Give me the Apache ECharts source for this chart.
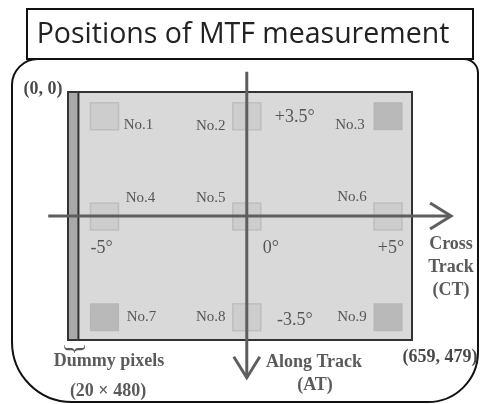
<!DOCTYPE html>
<html>
<head>
<meta charset="utf-8">
<script src="https://cdn.jsdelivr.net/npm/echarts@6/dist/echarts.min.js"></script>
<style>html,body{margin:0;padding:0;background:#fff}#c{width:480px;height:404px}</style>
</head>
<body>
<div id="c"></div>
<script>
// ---- data ----
const sensorExtent = [660, 480];          // detector pixels (CT x AT)
const dummyColumns = 20;                  // dummy pixel columns
const positionNames = ['No.1','No.2','No.3','No.4','No.5','No.6','No.7','No.8','No.9'];
const positionX = [70, 343, 614, 70, 343, 614, 70, 343, 614];
const positionY = [47, 47, 47, 241, 241, 241, 436, 436, 436];
const positionShade = ['light','light','dark','light','light','light','dark','light','dark'];
const angleLabels = ['+3.5°', '-5°', '0°', '+5°', '-3.5°'];
const angleAt = [1, 3, 4, 5, 7];          // index of the position each angle label belongs to
const crossTrackAxis = [-38, 240, 735, 240];
const alongTrackAxis = [343, -39, 343, 553];
const cornerLabels = ['(0, 0)', '(659, 479)'];

// ---- layout / styles ----
const noLabelOffset = [[34,9],[-36,10],[-38,9],[36,-18],[-36,-18],[-36,-19],[37,0],[-36,0],[-36,0]];
const angleOffset = [[48,1],[-3,32],[24,32],[3,32],[48,3]];
const serif = '"Liberation Serif", "Times New Roman", serif';

const chart = echarts.init(document.getElementById('c'), null, {renderer: 'canvas'});

const squareData = positionNames.map((n, i) => ({
  value: [positionX[i], positionY[i]],
  name: n,
  itemStyle: positionShade[i] === 'dark'
    ? {color: '#b0b0b0', borderColor: '#b0b0b0', borderWidth: 1}
    : {color: '#c9c9c9', borderColor: '#b9b9b9', borderWidth: 1.5},
  label: {show: true, formatter: n, position: 'inside', offset: noLabelOffset[i]}
}));

const angleData = angleLabels.map((t, k) => ({
  value: [positionX[angleAt[k]], positionY[angleAt[k]]],
  label: {show: true, formatter: t, position: 'inside', offset: angleOffset[k]}
}));

function arrowItem(params, api) {
  const a = api.coord([api.value(0), api.value(1)]);
  const b = api.coord([api.value(2), api.value(3)]);
  const dx = b[0] - a[0], dy = b[1] - a[1];
  const len = Math.sqrt(dx*dx + dy*dy);
  const ux = dx/len, uy = dy/len;
  const back = 21, half = 13;
  const bx = b[0] - ux*back, by = b[1] - uy*back;
  const style = {stroke: '#5e5e5e', lineWidth: 3, fill: null};
  return {type: 'group', children: [
    {type: 'line', shape: {x1: a[0], y1: a[1], x2: b[0] - ux*1.5, y2: b[1] - uy*1.5}, style: style},
    {type: 'polyline', shape: {points: [[bx - uy*half, by + ux*half], [b[0], b[1]], [bx + uy*half, by - ux*half]]}, style: style}
  ]};
}

const option = {
  animation: false,
  grid: {left: 68, top: 92, width: 344, height: 248},
  xAxis: {type: 'value', min: 0, max: sensorExtent[0], show: false},
  yAxis: {type: 'value', min: 0, max: sensorExtent[1], inverse: true, show: false},
  graphic: [
    {type: 'rect', z: 1, shape: {x: 12, y: 59, width: 466, height: 343, r: [26, 14, 50, 60]},
     style: {fill: '#fff', stroke: '#111', lineWidth: 2}},
    {type: 'rect', z: 2, shape: {x: 27, y: 9, width: 446, height: 50},
     style: {fill: '#fff', stroke: '#111', lineWidth: 2}},
    {type: 'text', z: 3, x: 243, y: 35,
     style: {text: 'Positions of MTF measurement', font: '28.5px "Open Sans", sans-serif', fill: '#222', align: 'center', verticalAlign: 'middle'}},
    {type: 'text', z: 50, x: 451, y: 267,
     style: {text: 'Cross\nTrack\n(CT)', font: 'bold 18px ' + serif, fill: '#5a5a5a', align: 'center', verticalAlign: 'middle', lineHeight: 23}},
    {type: 'text', z: 50, x: 314, y: 362,
     style: {text: 'Along Track', font: 'bold 18px ' + serif, fill: '#5a5a5a', align: 'center', verticalAlign: 'middle'}},
    {type: 'text', z: 50, x: 315, y: 385,
     style: {text: '(AT)', font: 'bold 18px ' + serif, fill: '#5a5a5a', align: 'center', verticalAlign: 'middle'}},
    {type: 'text', z: 50, x: 109, y: 361,
     style: {text: 'Dummy pixels', font: 'bold 18px ' + serif, fill: '#5a5a5a', align: 'center', verticalAlign: 'middle'}},
    {type: 'text', z: 50, x: 108, y: 391,
     style: {text: '(20 × 480)', font: 'bold 18px ' + serif, fill: '#5a5a5a', align: 'center', verticalAlign: 'middle'}},
    {type: 'text', z: 50, x: 75, y: 349, rotation: -Math.PI/2,
     style: {text: '}', font: '26px ' + serif, fill: '#5a5a5a', align: 'center', verticalAlign: 'middle'}}
  ],
  series: [
    {
      type: 'custom', z: 5, silent: true,
      data: [[0, 0, sensorExtent[0], sensorExtent[1], 0], [0, 0, dummyColumns, sensorExtent[1], 1]],
      renderItem: function (params, api) {
        const p1 = api.coord([api.value(0), api.value(1)]);
        const p2 = api.coord([api.value(2), api.value(3)]);
        const isDummy = api.value(4) === 1;
        return {type: 'rect', shape: {x: p1[0], y: p1[1], width: p2[0] - p1[0], height: p2[1] - p1[1]},
          style: isDummy ? {fill: '#a9a9a9', stroke: '#333', lineWidth: 2}
                         : {fill: '#d9d9d9', stroke: '#333', lineWidth: 2}};
      }
    },
    {
      type: 'scatter', z: 6, symbol: 'rect', symbolSize: [28, 27], silent: true,
      label: {color: '#333', fontFamily: serif, fontSize: 15},
      data: squareData
    },
    {
      type: 'scatter', z: 7, symbolSize: 0, silent: true,
      label: {color: '#333', fontFamily: serif, fontSize: 18},
      data: angleData
    },
    {
      type: 'scatter', z: 8, symbolSize: 0, silent: true,
      label: {color: '#1a1a1a', fontFamily: serif, fontSize: 18, fontWeight: 'bold', show: true},
      data: [
        {value: [0, 0], label: {formatter: cornerLabels[0], position: 'inside', offset: [-25, -3]}},
        {value: [sensorExtent[0], sensorExtent[1]], label: {formatter: cornerLabels[1], position: 'inside', offset: [28, 17]}}
      ]
    },
    {
      type: 'custom', z: 10, silent: true, clip: false,
      data: [crossTrackAxis, alongTrackAxis],
      renderItem: arrowItem
    }
  ]
};
chart.setOption(option);
</script>
</body>
</html>
